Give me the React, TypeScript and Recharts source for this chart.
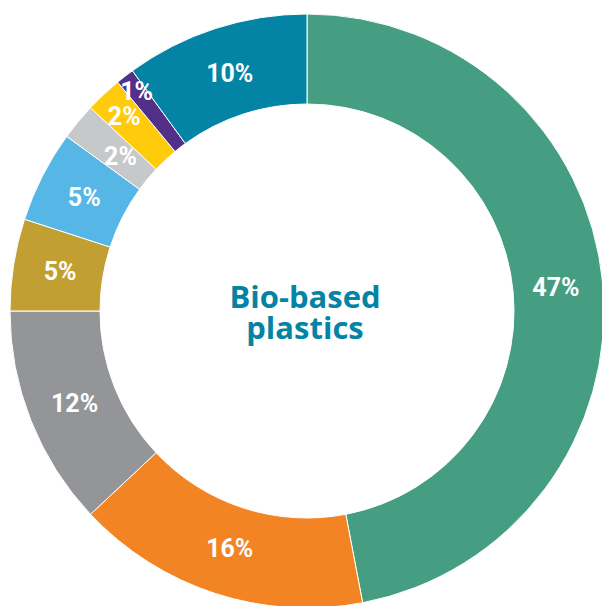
import { PieChart, Pie, Cell } from 'recharts';

const categories = ['A', 'B', 'C', 'D', 'E', 'F', 'G', 'H', 'I'];
const shares = [47, 16, 12, 5, 5, 2, 2, 1, 10];
const labels = ['47%', '16%', '12%', '5%', '5%', '2%', '2%', '1%', '10%'];
const colors = [
  '#469E82',
  '#F38423',
  '#939598',
  '#C29F32',
  '#56B6E6',
  '#C7C8CA',
  '#FFCB0A',
  '#52308A',
  '#0484A4',
];
const centerLines = ['Bio-based', 'plastics'];

const data = categories.map((name, i) => ({ name, value: shares[i], label: labels[i] }));

const RAD = Math.PI / 180;

// small slices get their labels pushed in/out a bit, like the original
const radialNudge: Record<number, number> = { 5: -8, 6: 17, 7: 28 };

function renderLabel(props: any) {
  const { cx, cy, midAngle, innerRadius, outerRadius, index } = props;
  const r = (innerRadius + outerRadius) / 2 + (radialNudge[index] ?? 0) - 2;
  const x = cx + r * Math.cos(-midAngle * RAD);
  const y = cy + r * Math.sin(-midAngle * RAD);
  return (
    <text
      x={x}
      y={y}
      fill="#ffffff"
      textAnchor="middle"
      dominantBaseline="central"
      style={{ fontFamily: 'Roboto', fontWeight: 700, fontSize: 25 }}
    >
      {data[index].label}
    </text>
  );
}

export default function App() {
  return (
    <div style={{ position: 'absolute', left: 0, top: 0, width: 602, height: 606, background: '#fff' }}>
      <PieChart width={602} height={606} margin={{ top: 0, right: 0, bottom: 0, left: 0 }}>
        <Pie
          data={data}
          dataKey="value"
          nameKey="name"
          cx={307}
          cy={311}
          innerRadius={207}
          outerRadius={297}
          startAngle={90}
          endAngle={-270}
          stroke="#ffffff"
          strokeWidth={1}
          label={renderLabel}
          labelLine={false}
          isAnimationActive={false}
        >
          {data.map((d, i) => (
            <Cell key={d.name} fill={colors[i]} />
          ))}
        </Pie>
        <text
          x={305}
          y={308}
          textAnchor="middle"
          fill="#0484A4"
          style={{ fontFamily: 'Open Sans', fontWeight: 700, fontSize: 31 }}
        >
          <tspan x={305} dy={0}>{centerLines[0]}</tspan>
          <tspan x={305} dy={31}>{centerLines[1]}</tspan>
        </text>
      </PieChart>
    </div>
  );
}
